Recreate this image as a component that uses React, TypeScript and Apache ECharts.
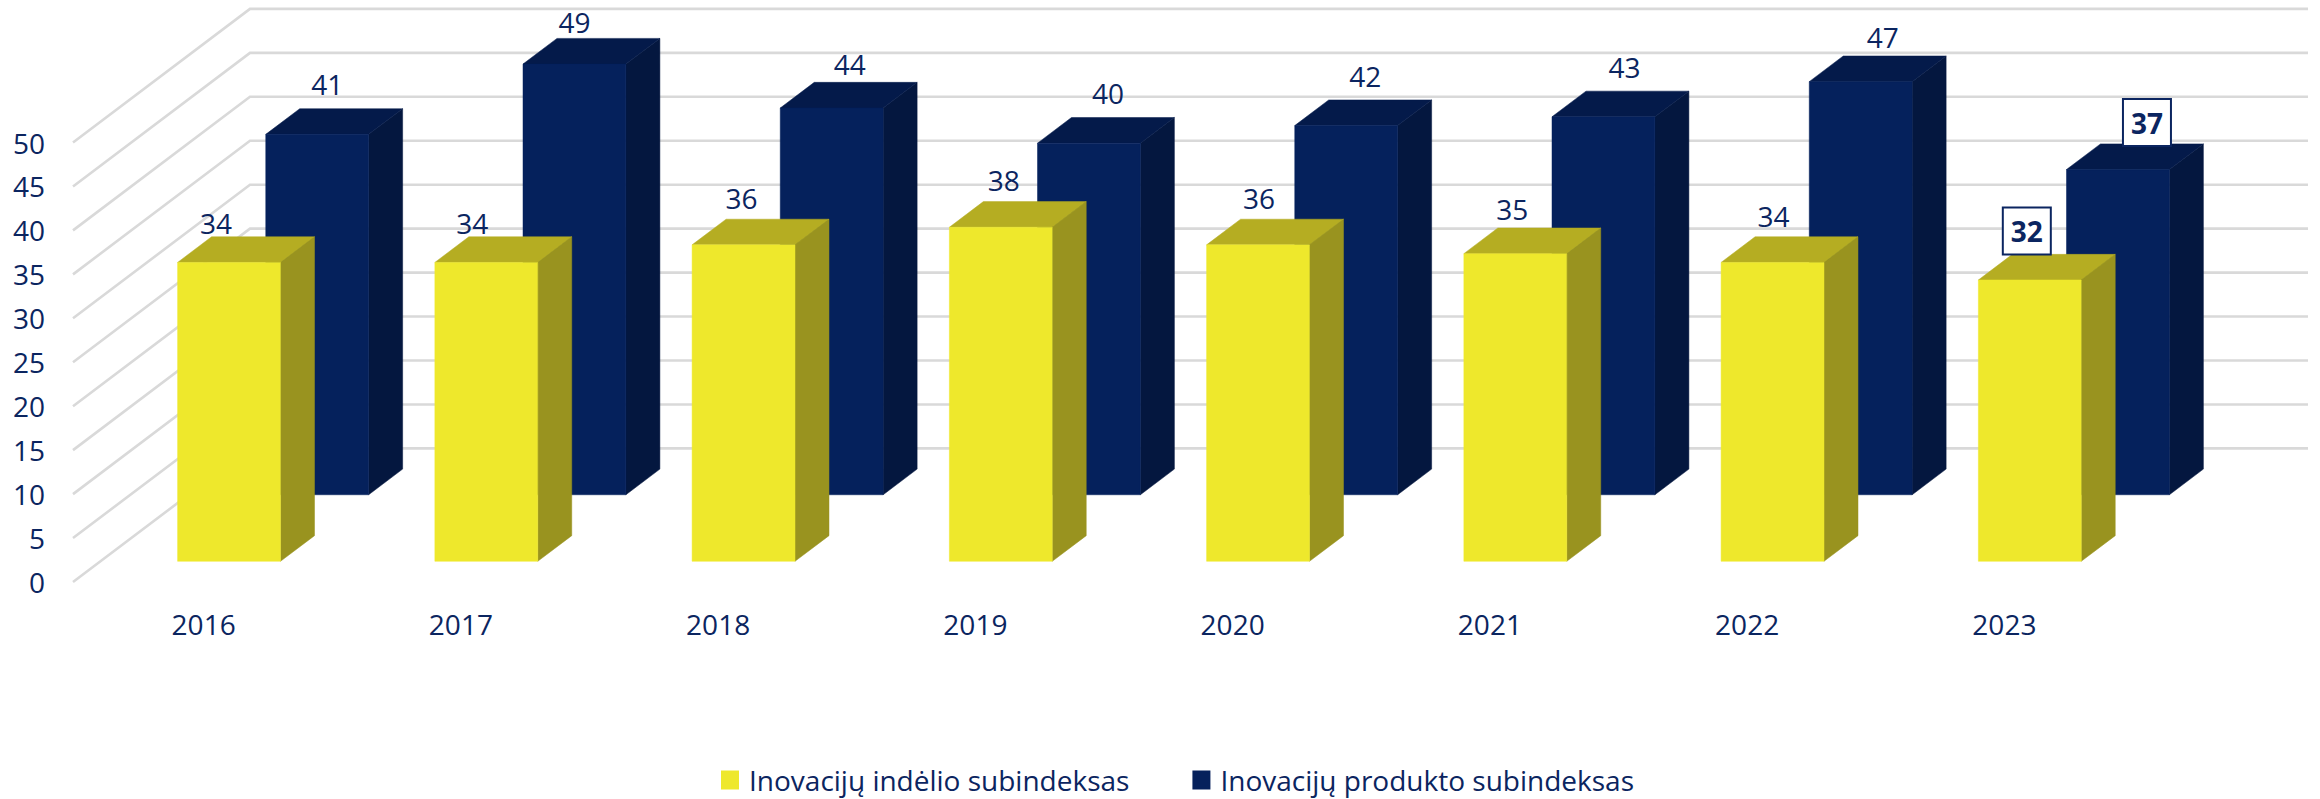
import React, { useEffect, useRef } from "react";
import * as echarts from "echarts";

const categories = ["2016", "2017", "2018", "2019", "2020", "2021", "2022", "2023"];
const inputName = "Inovacijų indėlio subindeksas";
const outputName = "Inovacijų produkto subindeksas";
const inputValues = [34, 34, 36, 38, 36, 35, 34, 32];
const outputValues = [41, 49, 44, 40, 42, 43, 47, 37];
const gridTicks = [0, 5, 10, 15, 20, 25, 30, 35, 40, 45, 50];

// label placement relative to the bar's top front edge (hand-arranged in the original)
const inputNudgeX = [-13, -14, -2, 3, 1, -3, 1, -3];
const inputNudgeY = [-39, -39, -47, -47, -47, -45, -46, -49];
const outputNudgeX = [10, 0, 18, 19, 19, 21, 22, 29];
const outputNudgeY = [-50, -42, -44, -50, -50, -50, -45, -47];
const boxedIndex = 7;

const TEXT = "#0B2560";
const FONT = "Open Sans";
const WALL_DX = 177;
const WALL_DY = -133.6;
const BAR_DEPTH = 0.192;
const BAR_WIDTH = 0.4;

const project = (p: number[], d: number) => [p[0] + d * WALL_DX, p[1] + d * WALL_DY];

const barRenderer =
  (depth: number, front: string, top: string, side: string, nudgeX: number[], nudgeY: number[]) =>
  (params: any, api: any) => {
    const i = api.value(0);
    const v = api.value(1);
    const band = api.size([1, 0])[0];
    const half = (band * BAR_WIDTH) / 2;
    const base = api.coord([i, 0]);
    const head = api.coord([i, v]);
    const tl = project([head[0] - half, head[1]], depth);
    const tr = project([head[0] + half, head[1]], depth);
    const br = project([base[0] + half, base[1]], depth);
    const bl = project([base[0] - half, base[1]], depth);
    const tlB = project(tl, BAR_DEPTH);
    const trB = project(tr, BAR_DEPTH);
    const brB = project(br, BAR_DEPTH);
    const face = (pts: number[][], fill: string) => ({
      type: "polygon",
      shape: { points: pts },
      style: { fill, stroke: fill, lineWidth: 0.5 },
    });
    const cx = (tl[0] + tr[0]) / 2 + nudgeX[i];
    const cy = tl[1] + nudgeY[i];
    const boxed = i === boxedIndex;
    const children: any[] = [
      face([tr, trB, brB, br], side),
      face([tl, tlB, trB, tr], top),
      face([tl, tr, br, bl], front),
    ];
    if (boxed) {
      children.push({
        type: "rect",
        shape: { x: cx - 24, y: cy - 23.5, width: 48, height: 47 },
        style: { fill: "#FFFFFF", stroke: TEXT, lineWidth: 2 },
      });
    }
    children.push({
      type: "text",
      style: {
        text: String(v),
        x: cx,
        y: cy,
        align: "center",
        verticalAlign: "middle",
        fill: TEXT,
        fontSize: 28,
        fontFamily: FONT,
        fontWeight: boxed ? "bold" : "normal",
      },
    });
    return { type: "group", children };
  };

const gridRenderer = (params: any, api: any) => {
  const v = api.value(1);
  const y = api.coord([0, v])[1];
  const { x, width } = params.coordSys;
  const a = [x, y];
  const b = project(a, 1);
  const c = [b[0] + width, b[1]];
  return {
    type: "polyline",
    shape: { points: [a, b, c] },
    style: { stroke: "#D9D9D9", lineWidth: 2.6, fill: "none" },
  };
};

export default function App() {
  const ref = useRef<HTMLDivElement>(null);
  useEffect(() => {
    document.body.style.margin = "0";
    const chart = echarts.init(ref.current!, undefined, { renderer: "svg" });
    chart.setOption({
      animation: false,
      backgroundColor: "#FFFFFF",
      grid: { left: 73, right: 189, top: 142.5, bottom: 217 },
      xAxis: {
        type: "category",
        data: categories,
        axisLine: { show: false },
        axisTick: { show: false },
        splitLine: { show: false },
        axisLabel: { color: TEXT, fontSize: 28, fontFamily: FONT, margin: 28, padding: [0, 0, 0, 4] },
      },
      yAxis: {
        type: "value",
        min: 0,
        max: 50,
        interval: 5,
        axisLine: { show: false },
        axisTick: { show: false },
        splitLine: { show: false },
        axisLabel: { color: TEXT, fontSize: 28, fontFamily: FONT, margin: 28 },
      },
      legend: {
        data: [inputName, outputName],
        left: 716,
        top: 761,
        icon: "rect",
        itemWidth: 18,
        itemHeight: 19,
        itemGap: 63,
        textStyle: { color: TEXT, fontSize: 28, fontFamily: FONT, padding: [0, 0, 0, 5] },
      },
      series: [
        {
          type: "custom",
          name: "grid",
          silent: true,
          data: gridTicks.map((t) => [0, t]),
          renderItem: gridRenderer,
          encode: { x: 0, y: 1 },
          z: 1,
        },
        {
          type: "custom",
          name: outputName,
          itemStyle: { color: "#05215C" },
          data: outputValues.map((v, i) => [i, v]),
          renderItem: barRenderer(0.653, "#05215C", "#041A4A", "#04173F", outputNudgeX, outputNudgeY),
          encode: { x: 0, y: 1 },
          z: 2,
        },
        {
          type: "custom",
          name: inputName,
          itemStyle: { color: "#EEE82C" },
          data: inputValues.map((v, i) => [i, v]),
          renderItem: barRenderer(0.155, "#EEE82C", "#B5AD22", "#99931F", inputNudgeX, inputNudgeY),
          encode: { x: 0, y: 1 },
          z: 3,
        },
      ],
    });
    return () => chart.dispose();
  }, []);
  return <div ref={ref} style={{ position: "absolute", left: 0, top: 0, width: 2320, height: 799 }} />;
}
